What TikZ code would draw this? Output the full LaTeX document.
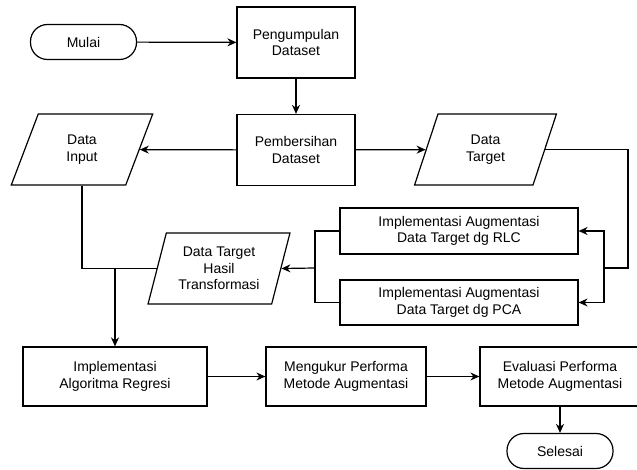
\documentclass[tikz,border=0pt]{standalone}
\usepackage{fontspec}
\setmainfont{Liberation Sans}
\usepackage{tikz}
\usetikzlibrary{arrows.meta, positioning, calc, shapes.geometric}

\begin{document}
\begin{tikzpicture}[
    x=1pt, y=1pt,
    every node/.style={font=\fontsize{14}{16.3}\selectfont, align=center, inner sep=0pt},
    block/.style={rectangle, draw, line width=1.2pt, minimum width=118pt, minimum height=71pt},
    term/.style={rectangle, draw, line width=1.2pt, rounded corners=17pt, minimum width=106pt, minimum height=35pt},
    data/.style={trapezium, draw, line width=1.2pt, trapezium left angle=71.6, trapezium right angle=108.4, trapezium stretches=true, minimum width=142pt, minimum height=71pt},
    line/.style={draw, -{Stealth[length=9pt, width=8pt]}, line width=1.2pt},
    link/.style={draw, line width=1.2pt}
]
    \useasboundingbox (0,0) rectangle (637,-470);

    \node [term] (mulai) at (83.5,-42) {Mulai};
    \node [block] (collect) at (296,-42.5) {Pengumpulan\\Dataset};
    \node [block] (clean) at (296,-150) {Pembersihan\\Dataset};
    \node [data] (input) at (82,-149.5) {Data\\Input};
    \node [data] (target) at (485.5,-149.5) {Data\\Target};

    \node [block, minimum width=238pt, minimum height=46pt] (rlc) at (459,-231) {Implementasi Augmentasi\\Data Target dg RLC};
    \node [block, minimum width=238pt, minimum height=45pt] (pca) at (459,-302.5) {Implementasi Augmentasi\\Data Target dg PCA};
    \node [data] (hasil) at (219,-268.5) {Data Target\\Hasil\\Transformasi};

    \node [block, minimum width=184pt, minimum height=59pt] (regresi) at (115,-376.5) {Implementasi\\Algoritma Regresi};
    \node [block, minimum width=160pt, minimum height=59pt] (ukur) at (346,-376.5) {Mengukur Performa\\Metode Augmentasi};
    \node [block, minimum width=160pt, minimum height=59pt] (evaluasi) at (560,-376.5) {Evaluasi Performa\\Metode Augmentasi};
    \node [term] (selesai) at (560,-451) {Selesai};

    \coordinate (turn) at (628,-268);
    \coordinate (split) at (604,-268);
    \coordinate (merge) at (315,-268);

    \draw [line] (mulai) -- (collect);
    \draw [line] (collect) -- (clean);
    \draw [line] (clean) -- (input);
    \draw [line] (clean) -- (target);

    \draw [link] (target.east) -| (turn) -- (split);
    \draw [line] (split) |- (rlc.east);
    \draw [line] (split) |- (pca.east);
    \draw [link] (rlc.west) -| (merge);
    \draw [link] (pca.west) -| (merge);
    \draw [line] (merge) -- (hasil.east);

    \draw [link] (input.south) |- (hasil.west);
    \coordinate (join) at (regresi.north |- hasil.west);
    \draw [line] (join) -- (regresi.north);

    \draw [line] (regresi) -- (ukur);
    \draw [line] (ukur) -- (evaluasi);
    \draw [line] (evaluasi) -- (selesai);

\end{tikzpicture}
\end{document}
